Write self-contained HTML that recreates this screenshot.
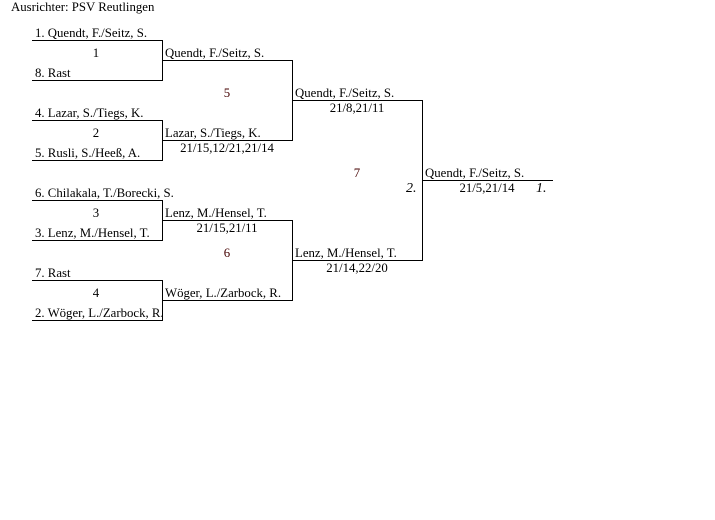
<!DOCTYPE html>
<html><head><meta charset="utf-8"><style>
body{margin:0;width:715px;height:520px;background:#fff;position:relative;overflow:hidden;font-family:"Liberation Serif",serif;font-size:12.8px;color:#000}
.t{position:absolute;line-height:14px;white-space:nowrap}
.c{position:absolute;line-height:14px;text-align:center;white-space:nowrap}
.h{position:absolute;height:1px;background:#000}
.v{position:absolute;width:1px;background:#000}
.n{color:#400}
</style></head><body>
<div class="t" style="left:11px;top:0px">Ausrichter: PSV Reutlingen</div>

<div class="h" style="left:32px;top:40px;width:131px"></div>
<div class="h" style="left:32px;top:80px;width:131px"></div>
<div class="v" style="left:162px;top:40px;height:41px"></div>
<div class="t" style="left:35px;top:26px">1. Quendt, F./Seitz, S.</div>
<div class="t" style="left:35px;top:66px">8. Rast</div>
<div class="c" style="left:66px;width:60px;top:46px">1</div>

<div class="h" style="left:32px;top:120px;width:131px"></div>
<div class="h" style="left:32px;top:160px;width:131px"></div>
<div class="v" style="left:162px;top:120px;height:41px"></div>
<div class="t" style="left:35px;top:106px">4. Lazar, S./Tiegs, K.</div>
<div class="t" style="left:35px;top:146px">5. Rusli, S./Heeß, A.</div>
<div class="c" style="left:66px;width:60px;top:126px">2</div>

<div class="h" style="left:32px;top:200px;width:131px"></div>
<div class="h" style="left:32px;top:240px;width:131px"></div>
<div class="v" style="left:162px;top:200px;height:41px"></div>
<div class="t" style="left:35px;top:186px">6. Chilakala, T./Borecki, S.</div>
<div class="t" style="left:35px;top:226px">3. Lenz, M./Hensel, T.</div>
<div class="c" style="left:66px;width:60px;top:206px">3</div>

<div class="h" style="left:32px;top:280px;width:131px"></div>
<div class="h" style="left:32px;top:320px;width:131px"></div>
<div class="v" style="left:162px;top:280px;height:41px"></div>
<div class="t" style="left:35px;top:266px">7. Rast</div>
<div class="t" style="left:35px;top:306px;width:127px;overflow:hidden">2. Wöger, L./Zarbock, R.</div>
<div class="c" style="left:66px;width:60px;top:286px">4</div>

<div class="h" style="left:162px;top:60px;width:131px"></div>
<div class="h" style="left:162px;top:140px;width:131px"></div>
<div class="v" style="left:292px;top:60px;height:81px"></div>
<div class="t" style="left:165px;top:46px">Quendt, F./Seitz, S.</div>
<div class="t" style="left:165px;top:126px">Lazar, S./Tiegs, K.</div>
<div class="c" style="left:167px;width:120px;top:141px">21/15,12/21,21/14</div>
<div class="c n" style="left:197px;width:60px;top:86px">5</div>

<div class="h" style="left:162px;top:220px;width:131px"></div>
<div class="h" style="left:162px;top:300px;width:131px"></div>
<div class="v" style="left:292px;top:220px;height:81px"></div>
<div class="t" style="left:165px;top:206px">Lenz, M./Hensel, T.</div>
<div class="c" style="left:167px;width:120px;top:221px">21/15,21/11</div>
<div class="t" style="left:165px;top:286px">Wöger, L./Zarbock, R.</div>
<div class="c n" style="left:197px;width:60px;top:246px">6</div>

<div class="h" style="left:292px;top:100px;width:131px"></div>
<div class="h" style="left:292px;top:260px;width:131px"></div>
<div class="v" style="left:422px;top:100px;height:161px"></div>
<div class="t" style="left:295px;top:86px">Quendt, F./Seitz, S.</div>
<div class="c" style="left:297px;width:120px;top:101px">21/8,21/11</div>
<div class="t" style="left:295px;top:246px">Lenz, M./Hensel, T.</div>
<div class="c" style="left:297px;width:120px;top:261px">21/14,22/20</div>
<div class="c n" style="left:327px;width:60px;top:166px">7</div>
<div class="t" style="left:406px;top:182px;font-style:italic;font-size:14px">2.</div>

<div class="h" style="left:422px;top:180px;width:131px"></div>
<div class="t" style="left:425px;top:166px">Quendt, F./Seitz, S.</div>
<div class="c" style="left:427px;width:120px;top:181px">21/5,21/14</div>
<div class="t" style="left:536px;top:182px;font-style:italic;font-size:14px">1.</div>
</body></html>
